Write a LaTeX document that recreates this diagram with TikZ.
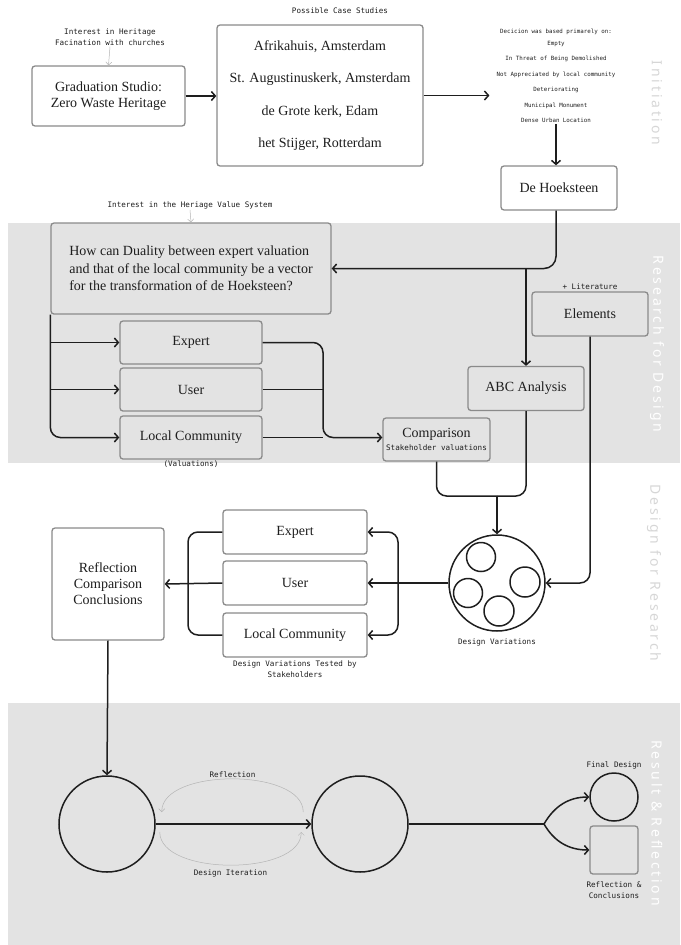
\documentclass[tikz,border=0pt]{standalone}
\usepackage{fontspec}
\setmainfont{Liberation Serif}
\newfontfamily\monofont{DejaVu Sans Mono}
\newfontfamily\sidefont[LetterSpace=20]{Noto Sans}
\usetikzlibrary{arrows.meta,positioning,calc}
\definecolor{BandGrey}{RGB}{227,227,227}
\definecolor{BoxLine}{RGB}{138,138,138}
\definecolor{Ink}{RGB}{30,30,30}
\definecolor{HintGrey}{RGB}{180,180,180}
\definecolor{SideGrey}{RGB}{214,214,214}
\tikzset{
  wbox/.style={rounded corners=3pt, draw=BoxLine, line width=1.3pt, fill=white,
    text=Ink, align=center, inner sep=2pt, font=\fontsize{14}{16}\selectfont},
  gbox/.style={wbox, fill=BandGrey},
  note/.style={font=\monofont\fontsize{7.6}{11}\selectfont, text=Ink, align=center, inner sep=1pt},
  tinynote/.style={note, font=\monofont\fontsize{5.8}{15.5}\selectfont},
  flow/.style={-{Straight Barb[length=4pt,width=9pt]}, draw=Ink, line width=1.5pt},
  link/.style={draw=Ink, line width=1.5pt},
  hint/.style={-{Straight Barb[length=3pt,width=6pt]}, draw=HintGrey, line width=0.5pt},
  ring/.style={circle, draw=Ink, line width=1.5pt, inner sep=0pt},
  sidelab/.style={font=\sidefont\fontsize{14}{14}\selectfont, rotate=-90, inner sep=0pt},
}

\begin{document}
\begin{tikzpicture}[x=1pt, y=1pt]
\useasboundingbox (0,0) rectangle (680,-945);

% ---------------- phase bands ----------------
\fill[BandGrey] (8,-223) rectangle (680,-463);
\fill[BandGrey] (8,-703) rectangle (680,-945);
\node[sidelab, text=SideGrey] (linit) at (657,-103) {Initiation};
\node[sidelab, text=white] (lrfd) at (657,-344) {Research for Design};
\node[sidelab, text=SideGrey] (ldfr) at (654,-573) {Design for Research};
\node[sidelab, text=white] (lres) at (657,-823) {Result \& Reflection};

% ---------------- initiation ----------------
\node[note] (interest) at (110,-37) {Interest in Heritage\\Facination with churches};
\node[wbox, minimum width=153, minimum height=60] (studio) at (108.5,-96)
  {Graduation Studio:\\Zero Waste Heritage};
\draw[hint] (interest.south) -- (studio.north);

\node[note] (casetitle) at (340,-11) {Possible Case Studies};
\node[wbox, minimum width=206, minimum height=141, font=\fontsize{14}{32.4}\selectfont] (cases) at (320,-95.5)
  {Afrikahuis, Amsterdam\\St. Augustinuskerk, Amsterdam\\de Grote kerk, Edam\\het Stijger, Rotterdam};
\draw[flow] (studio.east) -- (cases.west |- studio.east);

\node[tinynote] (decision) at (556,-76)
  {Decicion was based primarely on:\\[-4pt] Empty\\In Threat of Being Demolished\\Not Appreciated by local community\\
   Deteriorating\\Municipal Monument\\Dense Urban Location};
\draw[flow] (cases.east) -- ([xshift=-6pt]cases.east -| decision.west);

\node[wbox, minimum width=116, minimum height=44] (hoek) at (559,-188) {De Hoeksteen};
\draw[flow] (decision.south -| 556,0) -- (hoek.north -| 556,0);

% ---------------- research for design ----------------
\node[note] (valsys) at (190,-205) {Interest in the Heriage Value System};
\node[gbox, minimum width=280, minimum height=91, align=left, font=\fontsize{14}{17.5}\selectfont] (quest) at (191,-268.5)
  {How can Duality between expert valuation\\and that of the local community be a vector\\for the transformation of de Hoeksteen?};
\draw[hint] (valsys.south) -- (quest.north);

\node[gbox, minimum width=116, minimum height=44] (elements) at (590,-314) {Elements};
\node[note, above=1pt of elements] (lit) {+ Literature};
\node[gbox, minimum width=116, minimum height=44] (abc) at (526,-388.5) {ABC Analysis};

\draw[flow, rounded corners=12] (hoek.south -| 556,0) |- (quest.east);
\draw[flow] (abc.north |- quest.east) -- (abc.north);

\node[gbox, minimum width=142, minimum height=43] (vexpert) at (191,-342.5) {Expert};
\node[gbox, minimum width=142, minimum height=43] (vuser) at (191,-389.5) {User};
\node[gbox, minimum width=142, minimum height=43] (vlocal) at (191,-437.5) {Local Community};
\node[note, below=0pt of vlocal] (valnote) {(Valuations)};

\draw[flow, rounded corners=10] (quest.south west) |- (vlocal.west);
\draw[flow] (quest.south west |- vexpert.west) -- (vexpert.west);
\draw[flow] (quest.south west |- vuser.west) -- (vuser.west);

\node[gbox, minimum width=107, minimum height=43, inner sep=1pt] (comp) at (436.5,-439.5)
  {Comparison\\[-3pt]{\monofont\fontsize{7.6}{9}\selectfont Stakeholder valuations}};
\coordinate (vjoin) at (323,-437.5);
\draw[flow, rounded corners=10] (vexpert.east) -| (vjoin) -- (comp.west |- vjoin);
\draw[link] (vuser.east) -- (vuser.east -| vjoin);
\draw[link] (vlocal.east) -- (vjoin);

% ---------------- design for research ----------------
\node[ring, minimum size=96] (dv) at (497,-583) {};
\node[ring, minimum size=29] (dv1) at (481,-557) {};
\node[ring, minimum size=30] (dv2) at (525,-582) {};
\node[ring, minimum size=29] (dv3) at (468,-593) {};
\node[ring, minimum size=30] (dv4) at (499,-611) {};
\node[note, below=6pt of dv] (dvnote) {Design Variations};

\coordinate (merge) at (497,-496);
\draw[link, rounded corners=10] (comp.south) |- (merge);
\draw[link, rounded corners=10] (abc.south) |- (merge);
\draw[flow] (merge) -- (dv.north);
\draw[flow, rounded corners=10] (elements.south) |- (dv.east);

\node[wbox, minimum width=144, minimum height=44] (texpert) at (295,-532) {Expert};
\node[wbox, minimum width=144, minimum height=44] (tuser) at (295,-583) {User};
\node[wbox, minimum width=144, minimum height=44] (tlocal) at (295,-635) {Local Community};
\node[note, below=2pt of tlocal] (testnote) {Design Variations Tested by\\Stakeholders};

\draw[flow] (dv.west) -- (tuser.east);
\coordinate (rb) at (398,-583);
\draw[flow, rounded corners=10] (rb) |- (texpert.east);
\draw[flow, rounded corners=10] (rb) |- (tlocal.east);

\node[wbox, minimum width=112, minimum height=112] (refl) at (108,-584) {Reflection\\Comparison\\Conclusions};
\coordinate (lb) at (188,-583);
\draw[link, rounded corners=10] (texpert.west) -| (lb) |- (tlocal.west);
\draw[flow] (tuser.west) -- (refl.east);

% ---------------- result & reflection ----------------
\node[ring, minimum size=96] (iter1) at (107,-824) {};
\node[ring, minimum size=96] (iter2) at (360,-824) {};
\draw[flow] (refl.south) -- (iter1.north);
\draw[flow] (iter1.east) -- (iter2.west);
\draw[hint] ([shift={(-8,12)}]iter2.west) to[out=90, in=90, looseness=0.8]
  node[note, above, midway] (reflab) {Reflection} ([shift={(6,12)}]iter1.east);
\draw[hint] ([shift={(4,-8)}]iter1.east) to[out=-90, in=-90, looseness=0.8]
  node[note, below=3pt, midway] (iterlab) {Design Iteration} ([shift={(-10,-8)}]iter2.west);

\node[ring, minimum size=48] (final) at (614,-797) {};
\node[note, above=2pt of final] (finalnote) {Final Design};
\node[gbox, minimum width=48, minimum height=48] (refsq) at (614,-850) {};
\node[note, below=6pt of refsq] (refsqnote) {Reflection \&\\Conclusions};

\coordinate (split) at (544,-824);
\draw[link] (iter2.east) -- (split);
\draw[flow] (split) to[out=60, in=180] (final.west);
\draw[flow] (split) to[out=-60, in=180] (refsq.west);

\end{tikzpicture}
\end{document}
